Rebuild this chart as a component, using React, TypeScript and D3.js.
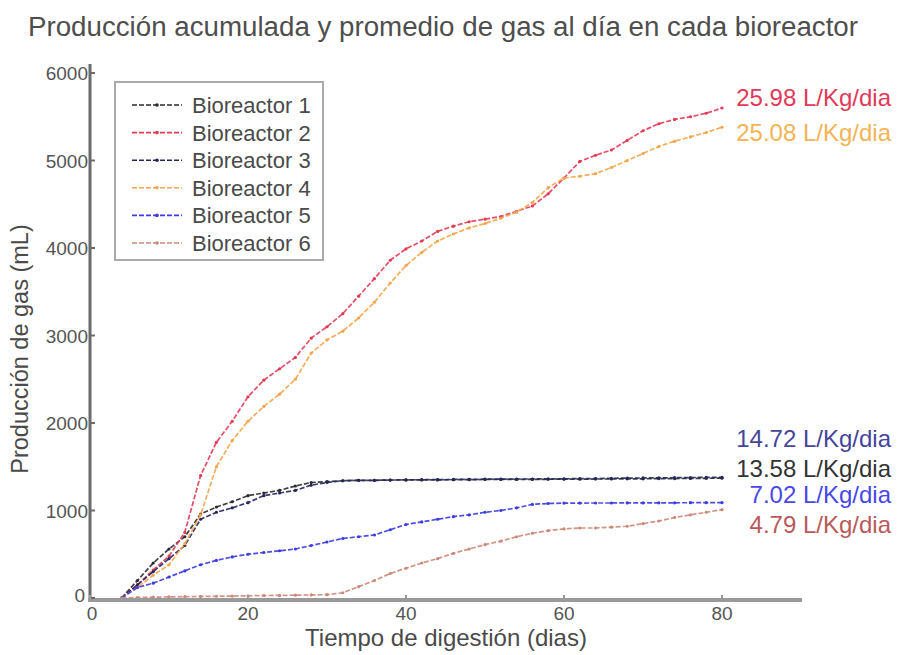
import React from "react";
import * as d3 from "d3";

const days = [4,6,8,10,12,14,16,18,20,22,24,26,28,30,32,34,36,38,40,42,44,46,48,50,52,54,56,58,60,62,64,66,68,70,72,74,76,78,80];

const b1 = [0,200,400,560,700,960,1040,1100,1170,1200,1230,1280,1320,1330,1340,1345,1345,1348,1350,1350,1350,1352,1352,1355,1355,1355,1355,1357,1358,1358,1360,1360,1362,1362,1365,1365,1367,1368,1370];
const b2 = [0,150,320,480,750,1400,1780,2020,2300,2490,2620,2750,2970,3100,3250,3450,3650,3860,3990,4080,4190,4250,4300,4330,4360,4420,4480,4620,4800,4990,5060,5120,5230,5340,5420,5470,5500,5540,5600];
const b3 = [0,150,300,450,600,900,980,1030,1090,1170,1200,1230,1290,1320,1340,1345,1345,1348,1350,1352,1352,1355,1355,1358,1358,1360,1360,1362,1362,1365,1365,1368,1370,1372,1372,1375,1377,1378,1380];
const b4 = [0,120,260,380,620,950,1500,1800,2020,2190,2330,2500,2800,2950,3050,3200,3380,3600,3800,3950,4080,4160,4230,4280,4340,4410,4520,4690,4800,4820,4850,4920,5000,5080,5160,5220,5270,5320,5380];
const b5 = [0,120,170,240,310,380,430,470,500,520,540,560,600,640,680,700,720,780,840,870,900,930,950,980,1000,1030,1070,1080,1085,1085,1086,1086,1087,1087,1088,1088,1089,1089,1090];
const b6 = [0,5,10,12,15,18,20,22,25,28,30,32,35,38,60,130,200,280,340,400,450,510,560,610,650,700,740,770,790,800,800,810,820,850,880,920,950,980,1010];

const seriesNames = ["Bioreactor 1","Bioreactor 2","Bioreactor 3","Bioreactor 4","Bioreactor 5","Bioreactor 6"];
const seriesValues = [b1,b2,b3,b4,b5,b6];
const seriesColors = ["#2a2a2a","#e23a55","#26265e","#f2a54a","#3b3be0","#c98a7a"];

const rateLabels = ["25.98 L/Kg/dia","25.08 L/Kg/dia","14.72 L/Kg/dia","13.58 L/Kg/dia","7.02 L/Kg/dia","4.79 L/Kg/dia"];
const rateColors = ["#e03a58","#f2b455","#45459a","#333333","#4848e6","#b85a5a"];
const rateBaseline = [106, 141, 447, 477, 503, 533];

const xTicks = [0,20,40,60,80];
const yTicks = [0,1000,2000,3000,4000,5000,6000];

const FONT = "'Liberation Sans', Arial, sans-serif";

export default function App() {
  const x = d3.scaleLinear().domain([0, 90]).range([90, 801]);
  const y = d3.scaleLinear().domain([0, 6000]).range([598, 73]);
  const line = d3.line<[number, number]>().x(d => x(d[0])).y(d => y(d[1]));

  return (
    <svg width={907} height={655} style={{ position: "absolute", left: 0, top: 0, background: "#fff" }} fontFamily={FONT}>
      <rect x={0} y={0} width={907} height={655} fill="#fff" />
      <text x={28} y={36} fontSize={27} fill="#4e4e4e" textLength={830} lengthAdjust="spacingAndGlyphs">Producción acumulada y promedio de gas al día en cada bioreactor</text>

      {/* series */}
      {seriesValues.map((vals, i) => {
        const pts: [number, number][] = days.map((d, j) => [d, vals[j]]);
        return (
          <g key={i}>
            <path d={line(pts) || ""} fill="none" stroke={seriesColors[i]} strokeWidth={1.7} strokeDasharray="5,2" opacity={0.9} />
            {pts.map((p, j) => (
              <circle key={j} cx={x(p[0])} cy={y(p[1])} r={1.6} fill={seriesColors[i]} />
            ))}
          </g>
        );
      })}

      {/* axes */}
      <line x1={x(0)} x2={x(0)} y1={598} y2={64} stroke="#6a6a6a" strokeWidth={3} />
      <line x1={x(0) - 2} x2={802} y1={600} y2={600} stroke="#9a9a9a" strokeWidth={4} />
      {yTicks.map(t => (
        <g key={t}>
          <line x1={x(0)} x2={x(0) + 5} y1={y(t)} y2={y(t)} stroke="#6a6a6a" strokeWidth={2} />
          <text x={t === 0 ? 85 : 88} y={y(t) + (t === 0 ? 4 : 7)} fontSize={19} fill="#555" textAnchor="end">{t}</text>
        </g>
      ))}
      {xTicks.map(t => (
        <g key={t}>
          <line x1={x(t)} x2={x(t)} y1={600} y2={595} stroke="#9a9a9a" strokeWidth={2} />
          <text x={x(t) + (t === 0 ? 2 : 0)} y={620} fontSize={19} fill="#555" textAnchor="middle">{t}</text>
        </g>
      ))}
      <text x={446} y={646} fontSize={24} fill="#4a4a4a" textAnchor="middle">Tiempo de digestión (dias)</text>
      <text transform={`translate(28, 349) rotate(-90)`} fontSize={23.5} fill="#4a4a4a" textAnchor="middle">Producción de gas (mL)</text>

      {/* legend */}
      <rect x={115} y={82} width={208} height={178} fill="#fff" stroke="#aaa" strokeWidth={2} />
      {seriesNames.map((n, i) => {
        const ly = 105 + i * 27.6;
        return (
          <g key={n}>
            <line x1={132} x2={182} y1={ly} y2={ly} stroke={seriesColors[i]} strokeWidth={1.6} strokeDasharray="5,2" />
            <circle cx={157} cy={ly} r={1.8} fill={seriesColors[i]} />
            <text x={192} y={ly + 8} fontSize={22} fill="#4a4a4a">{n}</text>
          </g>
        );
      })}

      {/* rate labels */}
      {rateLabels.map((r, i) => (
        <text key={r} x={891} y={rateBaseline[i]} fontSize={24} fill={rateColors[i]} textAnchor="end">{r}</text>
      ))}
    </svg>
  );
}
